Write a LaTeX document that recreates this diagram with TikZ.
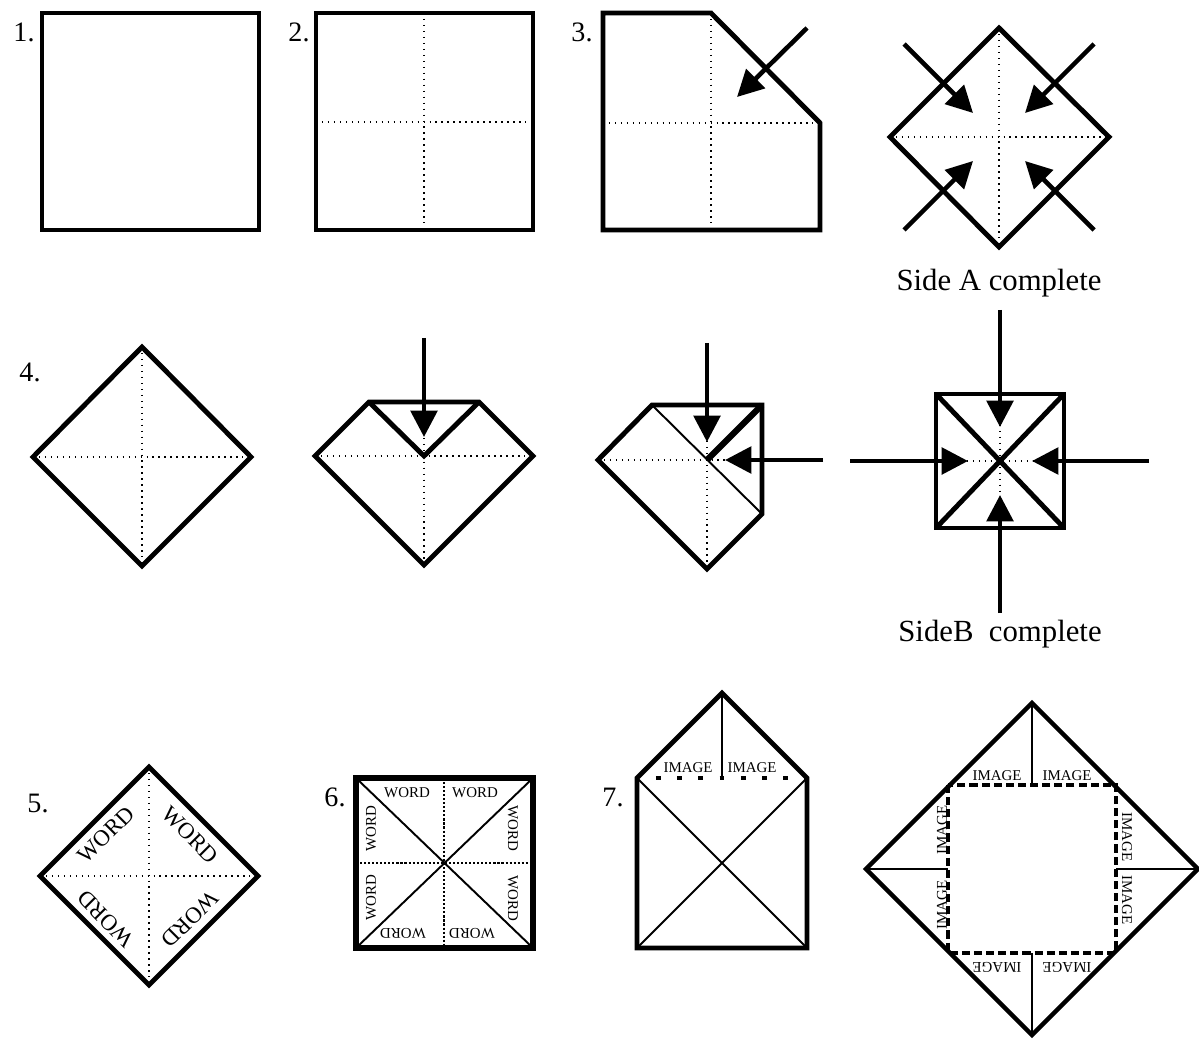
\documentclass[tikz,border=0pt]{standalone}
\usepackage{fontspec}
\setmainfont{Liberation Serif}
\usetikzlibrary{arrows.meta}

\begin{document}
\begin{tikzpicture}[x=0.02cm, y=-0.02cm,
  fold/.style={line width=2.8pt},
  thin/.style={line width=1.1pt},
  crease/.style={line width=0.8pt, dash pattern=on 0.8pt off 2.6pt},
  push/.style={line width=2.6pt, -{Triangle[length=15pt, width=15pt]}},
  num/.style={font=\fontsize{16}{16}\selectfont, inner sep=0pt},
  note/.style={font=\fontsize{17.5}{18}\selectfont, inner sep=0pt},
  big/.style={font=\fontsize{13}{13}\selectfont, inner sep=0pt},
  small/.style={font=\fontsize{8.5}{9}\selectfont, inner sep=0pt}]
\useasboundingbox (0,0) rectangle (1199,1043);

% row 1
\node[num] (n1) at (24,32) {1.};
\draw[fold] (42,13) rectangle (259,230);

\node[num] (n2) at (299,32) {2.};
\draw[crease] (424,13) -- (424,230) (316,122) -- (533,122);
\draw[fold] (316,13) rectangle (533,230);

\node[num] (n3) at (582,32) {3.};
\draw[crease] (711,13) -- (711,230) (603,123) -- (820,123);
\draw[fold] (603,13) -- (711,13) -- (820,123) -- (820,230) -- (603,230) -- cycle;
\draw[push] (807,28) -- (737,97);

\draw[crease] (999,28) -- (999,247) (890,137) -- (1109,137);
\draw[fold] (999,28) -- (1109,137) -- (999,247) -- (890,137) -- cycle;
\foreach \sx/\sy in {1/1,1/-1,-1/1,-1/-1}
  \draw[push] ({999+\sx*95},{137+\sy*93}) -- ({999+\sx*26},{137+\sy*24});
\node[note] (sideA) at (999,283) {Side A complete};

% row 2
\node[num] (n4) at (30,372) {4.};
\draw[crease] (142,347) -- (142,566) (33,457) -- (251,457);
\draw[fold] (142,347) -- (251,457) -- (142,566) -- (33,457) -- cycle;

\draw[crease] (315,456) -- (533,456) (424,402) -- (424,565);
\draw[fold] (315,456) -- (369,402) -- (479,402) -- (533,456) -- (424,565) -- cycle;
\draw[fold] (369,402) -- (424,456) -- (479,402);
\draw[push] (424,338) -- (424,437);

\draw[crease] (598,460) -- (762,460) (707,405) -- (707,569);
\draw[fold] (598,460) -- (652,405) -- (762,405) -- (762,514) -- (707,569) -- cycle;
\draw[thin] (652,405) -- (762,514);
\draw[line width=3.6pt] (707,460) -- (762,405);
\draw[push] (707,343) -- (707,442);
\draw[push] (823,460) -- (725,460);

\draw[crease] (1000,425) -- (1000,497) (967,461) -- (1033,461);
\draw[fold] (936,394) rectangle (1064,528);
\draw[fold] (936,394) -- (1064,528) (1064,394) -- (936,528);
\draw[push] (1000,310) -- (1000,427);
\draw[push] (1000,613) -- (1000,495);
\draw[push] (850,461) -- (968,461);
\draw[push] (1149,461) -- (1032,461);
\node[note] (sideB) at (1000,634) {SideB\ \ complete};

% row 3
\node[num] (n5) at (38,803) {5.};
\draw[crease] (149,767) -- (149,985) (40,876) -- (258,876);
\draw[fold] (149,767) -- (258,876) -- (149,985) -- (40,876) -- cycle;
\foreach \dx/\dy/\r [count=\i] in {-43/-41/45, 41/-41/-45, -43/43/135, 41/43/-135}
  \node[big, rotate=\r] (w\i) at ({149+\dx},{876+\dy}) {WORD};

\node[num] (n6) at (335,797) {6.};
\draw[line width=1.2pt, dash pattern=on 1.2pt off 1.1pt] (444,778) -- (444,948) (356,863) -- (533,863);
\draw[thin] (356,778) -- (533,948) (533,778) -- (356,948);
\draw[line width=3.2pt] (356,778) rectangle (533,948);
\foreach \dx/\dy/\r [count=\i] in {-37/-70/0, 31/-70/0, -73/-34/90, -73/35/90, 69/-35/-90, 69/35/-90, -41/70/180, 28/70/180}
  \node[small, rotate=\r] (v\i) at ({444+\dx},{863+\dy}) {WORD};

\node[num] (n7) at (613,797) {7.};
\draw[thin] (637,778) -- (807,948) (807,778) -- (637,948) (722,693) -- (722,778);
\draw[line width=2.8pt, dash pattern=on 2.8pt off 9.29pt, dash phase=1.4pt] (637,778) -- (807,778);
\draw[fold] (637,948) -- (637,778) -- (722,693) -- (807,778) -- (807,948) -- cycle;
\node[small] (m1) at (688,768) {IMAGE};
\node[small] (m2) at (752,768) {IMAGE};

\draw[thin] (1032,703) -- (1032,785) (866,869) -- (948,869) (1116,869) -- (1198,869) (1032,953) -- (1032,1035);
\draw[line width=2.3pt, dash pattern=on 4.6pt off 2.3pt] (948,785) rectangle (1116,953);
\draw[line width=2.5pt] (1032,703) -- (1198,869) -- (1032,1035) -- (866,869) -- cycle;
\foreach \dx/\dy/\r [count=\i] in {-35/-93/0, 35/-93/0, -90/-39/90, -90/36/90, 95/-32/-90, 95/31/-90, -35/98/180, 35/98/180}
  \node[small, rotate=\r] (k\i) at ({1032+\dx},{869+\dy}) {IMAGE};
\end{tikzpicture}
\end{document}
